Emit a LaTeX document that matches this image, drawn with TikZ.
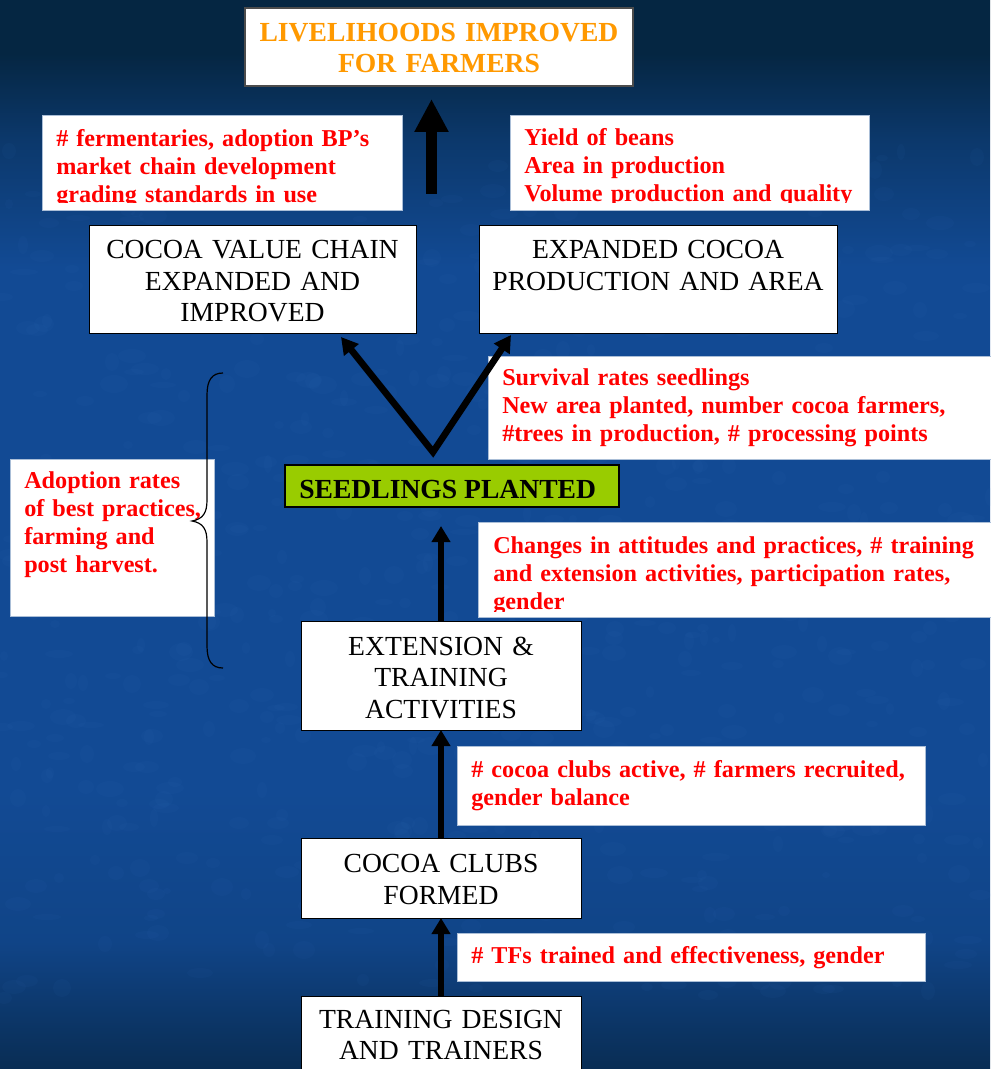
\documentclass[tikz,border=0pt]{standalone}
\usepackage{fontspec}
\setmainfont{Liberation Serif}
\usetikzlibrary{arrows.meta,fit}
\definecolor{bgtop}{RGB}{5,38,66}
\definecolor{bgmid}{RGB}{18,74,148}
\definecolor{bgbot}{RGB}{9,45,84}
\definecolor{speck}{RGB}{60,120,200}
\definecolor{redtxt}{RGB}{255,0,0}
\definecolor{orangetxt}{RGB}{255,153,0}
\definecolor{seedgreen}{RGB}{153,204,0}
\definecolor{redbord}{RGB}{170,190,215}
\pgfdeclareverticalshading{bgshade}{100bp}{color(0bp)=(bgbot); color(25bp)=(bgbot); color(31bp)=(bgmid!80!bgbot); color(38bp)=(bgmid); color(62.5bp)=(bgmid); color(68.5bp)=(bgmid!50!bgtop); color(72.5bp)=(bgtop); color(75bp)=(bgtop); color(100bp)=(bgtop)}
\begin{document}
\begin{tikzpicture}[x=0.75pt,y=-0.75pt,
  blackbox/.style={draw=black, line width=0.75pt, fill=white, inner sep=0pt, outer sep=0pt},
  redbox/.style={draw=redbord, line width=0.6pt, fill=white, inner sep=0pt, outer sep=0pt},
  titlebox/.style={draw=gray!60!black, line width=1.1pt, fill=white, inner sep=0pt, outer sep=0pt},
  seedbox/.style={draw=black, line width=1.1pt, fill=seedgreen, inner sep=0pt, outer sep=0pt},
  redtext/.style={anchor=base west, inner sep=0pt, align=left, text width=#1, text=redtxt,
    font=\fontsize{18.15}{21}\selectfont\bfseries},
  blacktext/.style={anchor=base, inner sep=0pt, align=center, text width=#1, text=black,
    font=\fontsize{20.7}{23.8}\selectfont},
  bigarrow/.style={line width=8.25pt, -{Triangle[length=24.75pt,width=24pt]}},
  uparrow/.style={line width=4.5pt, -{Triangle[length=12pt,width=13.5pt]}},
  varrow/.style={line width=5pt, line join=miter, {Triangle[length=12.5pt,width=13.5pt]}-{Triangle[length=12.5pt,width=13.5pt]}},
  bracestyle/.style={draw=black, line width=0.9pt},
  mottle/.style={fill=speck, fill opacity=0.05, draw=none}
]
\useasboundingbox (0,0) rectangle (990,1069);
\shade[shading=bgshade] (0,0) rectangle (990,1069);
% background mottling
\pgfmathsetseed{4242}
\foreach \k in {1,...,700}{
  \pgfmathsetmacro{\mx}{random(0,990)}
  \pgfmathsetmacro{\my}{random(150,1000)}
  \pgfmathsetmacro{\mr}{random(4,14)}
  \pgfmathsetmacro{\ms}{random(3,9)}
  \fill[mottle] (\mx,\my) ellipse [x radius=\mr, y radius=\ms];
}

% ---- boxes ----
\node[titlebox, fit={(245,8) (633,86)}] (title) {};
\node[redbox, fit={(42,115) (402,210)}] (m1) {};
\node[redbox, fit={(510,115) (869,210)}] (m2) {};
\node[blackbox, fit={(89,226) (416,334)}] (vcc) {};
\node[blackbox, fit={(479,226) (837,334)}] (exp) {};
\node[redbox, fit={(488,356) (995,459)}] (surv) {};
\node[seedbox, fit={(285,465) (619,507)}] (seed) {};
\node[redbox, fit={(10,459) (214,616)}] (adopt) {};
\node[redbox, fit={(478,522) (995,617)}] (chg) {};
\node[blackbox, fit={(301,621) (581,730)}] (ext) {};
\node[redbox, fit={(457,746) (925,825)}] (clubsm) {};
\node[blackbox, fit={(301,838) (581,918)}] (clubs) {};
\node[redbox, fit={(457,933) (925,981)}] (tfs) {};
\node[blackbox, fit={(301,996) (581,1080)}] (train) {};

% ---- texts ----
\node[anchor=base, inner sep=0pt, align=center, text width=290pt, text=orangetxt,
  font=\fontsize{20.7}{23.25}\selectfont\bfseries] (titlet) at (439,41.7)
  {LIVELIHOODS IMPROVED\\FOR FARMERS};

\begin{scope}
  \clip (42,115) rectangle (402,202.5);
  \node[redtext=250pt] (m1t) at (56,147)
    {\# fermentaries, adoption BP’s\\market chain development\\grading standards in use};
\end{scope}
\begin{scope}
  \clip (510,115) rectangle (869,203);
  \node[redtext=260pt] (m2t) at (524,146)
    {Yield of beans\\Area in production\\Volume production and quality};
\end{scope}

\node[blacktext=240pt] (vcct) at (252.5,258.3) {COCOA VALUE CHAIN\\EXPANDED AND\\IMPROVED};
\node[blacktext=265pt] (expt) at (658,258.3) {EXPANDED COCOA\\PRODUCTION AND AREA};

\node[redtext=345pt] (survt) at (502,385)
  {Survival rates seedlings\\New area planted, number cocoa farmers,\\\#trees in production, \# processing points};

\node[anchor=base west, inner sep=0pt, font=\fontsize{20.7}{23.8}\selectfont\bfseries] (seedt) at (299,498.3)
  {SEEDLINGS PLANTED};

\node[redtext=145pt] (adoptt) at (24,488)
  {Adoption rates\\of best practices,\\farming and\\post harvest.};

\begin{scope}
  \clip (478,522) rectangle (995,611.5);
  \node[redtext=370pt] (chgt) at (493,553)
    {Changes in attitudes and practices, \# training\\and extension activities, participation rates,\\gender};
\end{scope}

\node[blacktext=200pt] (extt) at (441,655) {EXTENSION \&\\TRAINING\\ACTIVITIES};

\node[redtext=340pt] (clubsmt) at (471,777)
  {\# cocoa clubs active, \# farmers recruited,\\gender balance};

\node[blacktext=200pt] (clubst) at (441,872.7) {COCOA CLUBS\\FORMED};

\node[redtext=320pt] (tfst) at (471,963)
  {\# TFs trained and effectiveness, gender};

\node[blacktext=200pt] (traint) at (441,1028) {TRAINING DESIGN\\AND TRAINERS};

% ---- connectors ----
\coordinate (bigfoot) at (431.5,194);
\coordinate (bigtip) at (431.5,99);
\draw[bigarrow] (bigfoot) -- (bigtip);

\coordinate (vtx) at (433,452);
\coordinate (vleft) at (341,337);
\coordinate (vright) at (511,335);
\draw[varrow] (vleft) -- (vtx) -- (vright);

\coordinate (seedtip) at (441,526);
\draw[uparrow] (ext.north) -- (seedtip);
\draw[uparrow] (clubs.north) -- (ext.south);
\draw[uparrow] (train.north) -- (clubs.south);

% ---- brace ----
\draw[bracestyle] (223,373) .. controls (212,373) and (207,380) .. (207,395)
  -- (207,500) .. controls (207,513) and (203,519) .. (192,521)
  .. controls (203,523) and (207,529) .. (207,542)
  -- (207,646) .. controls (207,661) and (212,668) .. (223,668);
\end{tikzpicture}
\end{document}
